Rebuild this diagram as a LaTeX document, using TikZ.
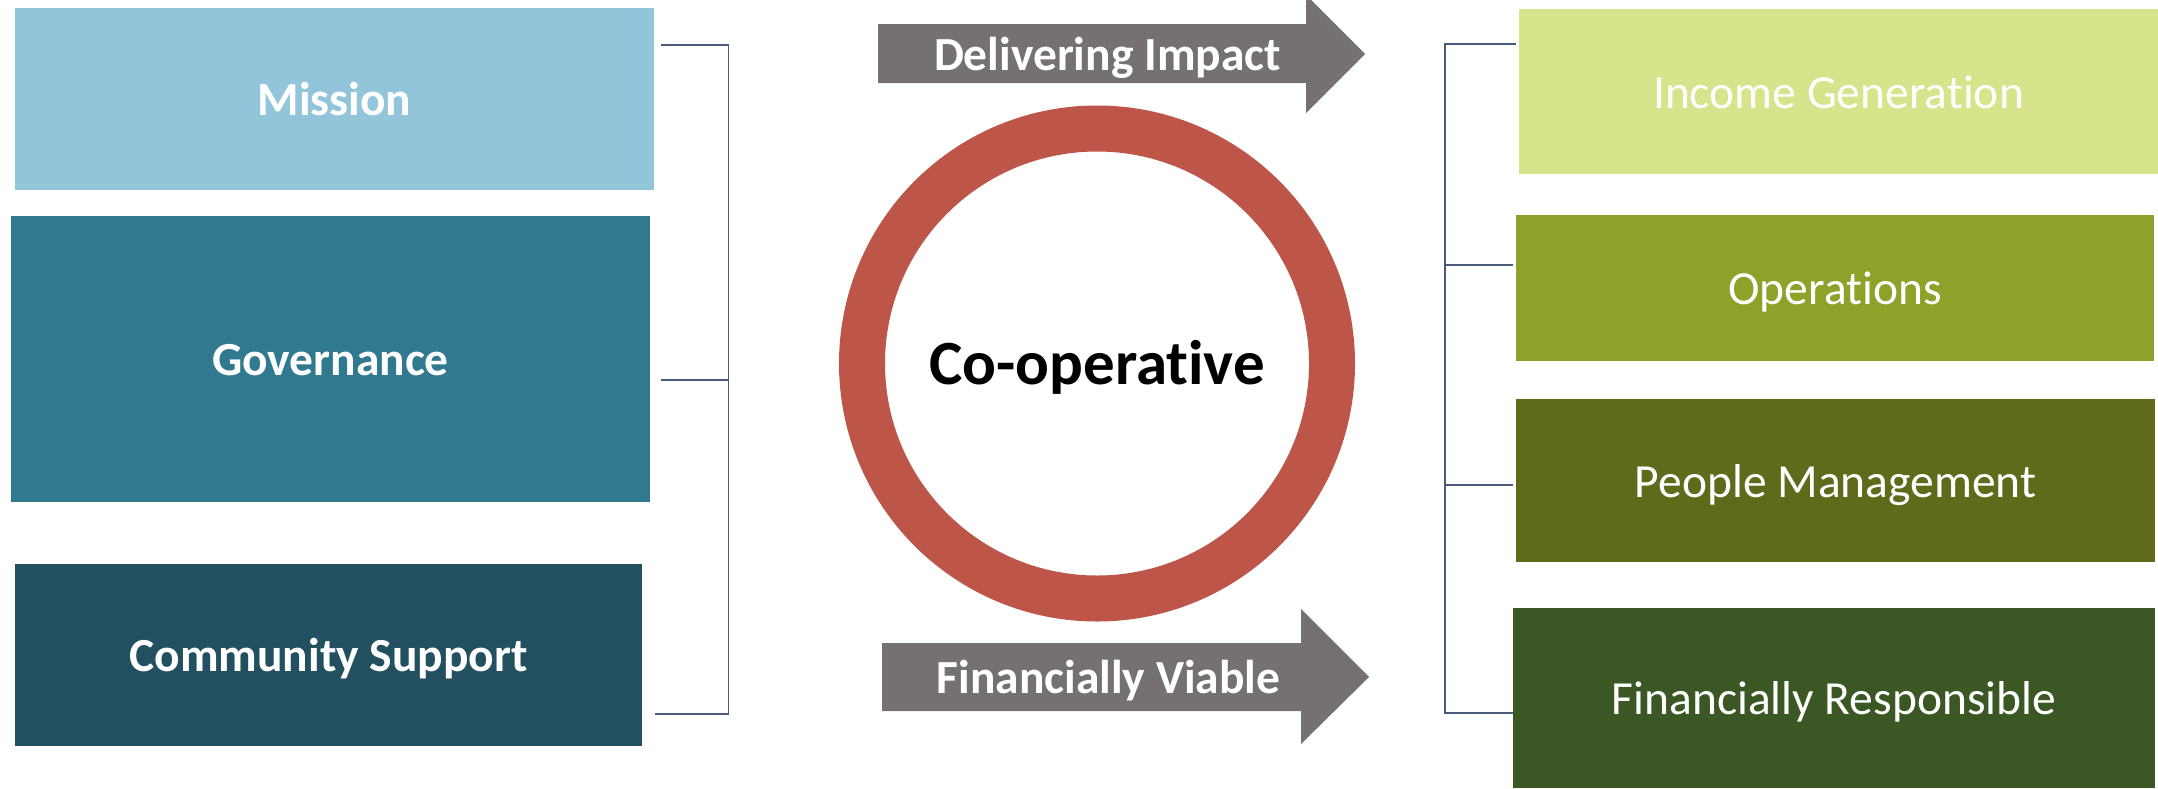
\documentclass[tikz,border=0pt]{standalone}
\usepackage{fontspec}
\setmainfont{Carlito}[Ligatures=NoCommon]
\definecolor{missionblue}{HTML}{92C5D9}
\definecolor{govblue}{HTML}{31798F}
\definecolor{commblue}{HTML}{225060}
\definecolor{incomegreen}{HTML}{D7E48B}
\definecolor{opsgreen}{HTML}{8EA128}
\definecolor{peoplegreen}{HTML}{5F6B1B}
\definecolor{fingreen}{HTML}{3B5724}
\definecolor{flowgray}{HTML}{767171}
\definecolor{coopred}{HTML}{BE5549}
\definecolor{bracketblue}{HTML}{4A5A7A}
\begin{document}
\begin{tikzpicture}[x=1pt,y=-1pt,
    box/.style={rectangle, inner sep=0pt, text=white, text height=33pt, text depth=0pt,
        font=\fontsize{47.5}{50}\selectfont},
    leftbox/.style={box, font=\fontsize{47.5}{50}\selectfont\bfseries},
    flowtext/.style={inner sep=0pt, text=white, text height=30pt, text depth=0pt,
        font=\fontsize{47.5}{50}\selectfont\bfseries},
    bracket/.style={draw=bracketblue, line width=1.2pt}]
    \clip (0,0) rectangle (2158,788);
    \fill[white] (0,0) rectangle (2158,788);

    % left column
    \node[leftbox, fill=missionblue, minimum width=639, minimum height=182] (mission) at (334.5,99) {Mission};
    \node[leftbox, fill=govblue, minimum width=639, minimum height=286] (governance) at (330.5,359) {Governance};
    \node[leftbox, fill=commblue, minimum width=627, minimum height=182] (community) at (328.5,655) {Community Support};

    % right column
    \node[box, fill=incomegreen, minimum width=639, minimum height=165] (income) at (1838.5,91.5) {Income Generation};
    \node[box, fill=opsgreen, minimum width=638, minimum height=146] (operations) at (1835,288) {Operations};
    \node[box, fill=peoplegreen, minimum width=639, minimum height=163] (people) at (1835.5,480.5) {People Management};
    \node[box, fill=fingreen, minimum width=642, minimum height=180] (finresp) at (1834,698) {Financially Responsible};

    % brackets
    \coordinate (l1) at (661,45);
    \coordinate (l2) at (661,380);
    \coordinate (l3) at (655,714);
    \coordinate (lv1) at (728.5,45);
    \coordinate (lv2) at (728.5,380);
    \coordinate (lv3) at (728.5,714);
    \draw[bracket] (l1) -- (lv1) -- (lv3) -- (l3);
    \draw[bracket] (l2) -- (lv2);

    \coordinate (r1) at (1516,44);
    \coordinate (r2) at (1513,265);
    \coordinate (r3) at (1513,485);
    \coordinate (r4) at (1513,713);
    \coordinate (rv1) at (1445,44);
    \coordinate (rv2) at (1445,265);
    \coordinate (rv3) at (1445,485);
    \coordinate (rv4) at (1445,713);
    \draw[bracket] (r1) -- (rv1) -- (rv4) -- (r4);
    \draw[bracket] (rv2) -- (r2);
    \draw[bracket] (rv3) -- (r3);

    % ring
    \node[circle, draw=coopred, line width=46pt, minimum size=470, inner sep=0pt,
        text height=42pt, text depth=0pt, font=\fontsize{63}{66}\selectfont\bfseries] (coop) at (1097,363.5) {Co-operative};

    % arrows
    \fill[flowgray] (878,24) -- (1306,24) -- (1306,-5) -- (1365,54) -- (1306,113) -- (1306,83) -- (878,83) -- cycle;
    \node[flowtext] (impact) at (1107.5,55) {Delivering Impact};
    \fill[flowgray] (882,643) -- (1301,643) -- (1301,609) -- (1369,677) -- (1301,744) -- (1301,711) -- (882,711) -- cycle;
    \node[flowtext] (viable) at (1108.5,678) {Financially Viable};
\end{tikzpicture}
\end{document}
